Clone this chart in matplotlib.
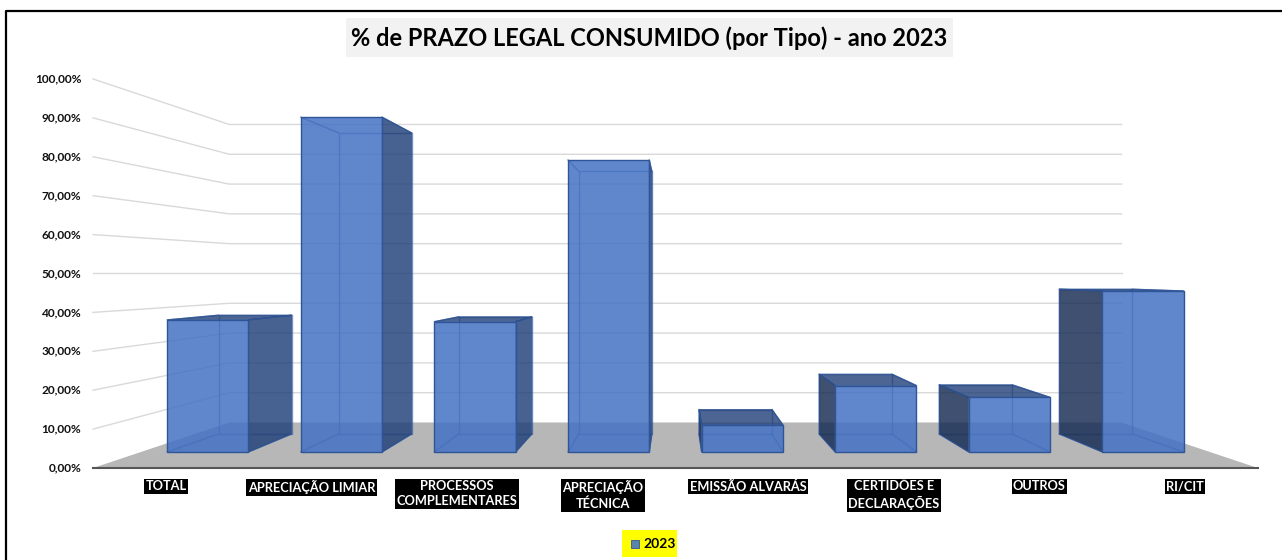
import matplotlib
matplotlib.use('Agg')
import matplotlib.pyplot as plt
from matplotlib.patches import Polygon, Rectangle

plt.rcParams['font.family'] = ['Lato', 'DejaVu Sans']

categorias = ['TOTAL', 'APRECIAÇÃO LIMIAR', 'PROCESSOS\nCOMPLEMENTARES', 'APRECIAÇÃO\nTÉCNICA',
              'EMISSÃO ALVARÁS', 'CERTIDÕES E\nDECLARAÇÕES', 'OUTROS', 'RI/CIT']
valores = [37.0, 93.8, 36.5, 81.8, 7.6, 18.6, 15.3, 45.1]
ticks = [0, 10, 20, 30, 40, 50, 60, 70, 80, 90, 100]

# Perspectiva: ponto de fuga em (3.5, 50), s = escala pela profundidade
VX, VY = 3.5, 50
S_PAREDE = 0.766
S_FRENTE = 0.9175
S_FUNDO = 0.825
LARG = 0.304

def proj(x, v, s):
    return (VX + s * (x - VX), VY + s * (v - VY))

# retangulo em pixels da figura
def caixa(x0, y0, x1, y1, **kw):
    ax.add_patch(Rectangle((x0 / 1282, 1 - y1 / 560), (x1 - x0) / 1282, (y1 - y0) / 560,
                           transform=ax.transAxes, **kw))

fig = plt.figure(figsize=(12.82, 5.6), dpi=100)
ax = fig.add_axes([0, 0, 1, 1])
ax.set_xlim(-1.139, 7.666)
ax.set_ylim(-23.65, 120.3)
ax.axis('off')

# moldura, so em cima e a esquerda
ax.plot([6 / 1282, 6 / 1282, 1], [0, 1 - 11 / 560, 1 - 11 / 560], transform=ax.transAxes,
        color='black', lw=1.6, zorder=30)

# grade e chao
for t in ticks[1:]:
    a = proj(-0.5, t, 1)
    b = proj(-0.5, t, S_PAREDE)
    c = proj(7.5, t, S_PAREDE)
    ax.plot([a[0], b[0], c[0]], [a[1], b[1], c[1]], color='#d9d9d9', lw=1, zorder=1)

chao = [proj(-0.5, 0, 1), proj(7.5, 0, 1), proj(7.5, 0, S_PAREDE), proj(-0.5, 0, S_PAREDE)]
ax.add_patch(Polygon(chao, color='#b7b7b7', lw=0, zorder=2))
ax.plot([-0.5, 7.5], [0, 0], color='#555555', lw=1.5, zorder=3)

for t in ticks:
    ax.text(-0.58, t, f'{t},00%', ha='right', va='center', fontsize=8.6, fontweight='bold', color='#111111')

# barras
for i, v in enumerate(valores):
    x0, x1 = i - LARG, i + LARG
    z = 4 + i * 0.01
    f = [proj(x0, 0, S_FRENTE), proj(x1, 0, S_FRENTE), proj(x1, v, S_FRENTE), proj(x0, v, S_FRENTE)]
    t = [proj(x0, 0, S_FUNDO), proj(x1, 0, S_FUNDO), proj(x1, v, S_FUNDO), proj(x0, v, S_FUNDO)]

    # arestas de tras
    ax.add_patch(Polygon(t, fill=False, ec='#2f5597', lw=1, alpha=0.6, zorder=z))
    for k in range(4):
        ax.plot([f[k][0], t[k][0]], [f[k][1], t[k][1]], color='#2f5597', lw=1, alpha=0.7, zorder=z)

    # lateral visivel
    if i < VX:
        lado = [f[1], t[1], t[2], f[2]]
        cor_lado = '#1f3f78'
    else:
        lado = [f[0], t[0], t[3], f[3]]
        cor_lado = '#142a52'
    ax.add_patch(Polygon(lado, fc=cor_lado, ec='#2f5597', lw=0.8, alpha=0.82, zorder=z))

    # topo, so aparece abaixo do ponto de fuga
    if v < VY:
        ax.add_patch(Polygon([f[3], f[2], t[2], t[3]], fc='#1f3f78', ec='#2f5597', lw=0.8, alpha=0.8, zorder=z))

    ax.add_patch(Polygon(f, fc='#4472c4', ec='none', alpha=0.85, zorder=z + 0.001))
    ax.add_patch(Polygon(f, fill=False, ec='#2f5597', lw=1, zorder=z + 0.002))

    ax.text(i, -3.2, categorias[i], ha='center', va='top', fontsize=9.2, fontweight='bold', color='white',
            linespacing=1.3, bbox=dict(fc='black', ec='none', pad=1), zorder=20)

# titulo
caixa(346, 18, 953, 57, fc='#f2f2f2', ec='none', zorder=19)
ax.text(649.5 / 1282, 1 - 38 / 560, '% de PRAZO LEGAL CONSUMIDO (por Tipo) - ano 2023', transform=ax.transAxes,
        ha='center', va='center', fontsize=17, fontweight='bold', color='black', zorder=20)

# legenda
caixa(622, 530, 677, 557, fc='#ffff00', ec='none', zorder=20)
caixa(631, 540, 639, 548, fc='#5b84ad', ec='#2f5597', lw=0.6, zorder=21)
ax.text(643 / 1282, 1 - 544 / 560, '2023', transform=ax.transAxes, ha='left', va='center',
        fontsize=10, fontweight='bold', color='black', zorder=21)

fig.savefig('out.png', dpi=100)
